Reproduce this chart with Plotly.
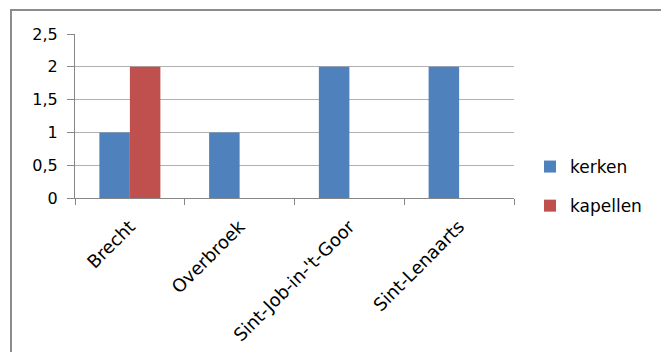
import plotly.graph_objects as go

categories = ["Brecht", "Overbroek", "Sint-Job-in-'t-Goor", "Sint-Lenaarts"]
kerken = [1, 1, 2, 2]
kapellen = [2, 0, 0, 0]
y_ticks = [0, 0.5, 1, 1.5, 2, 2.5]

W, H = 661, 352
L, R, T, B = 75, 514, 34, 198  # plot area in pixels

FONT = "DejaVu Sans"

fig = go.Figure()
fig.add_trace(go.Bar(name="kerken", x=categories, y=kerken, marker_color="#4F81BD",
                     marker_line_width=0, legendgroup="a"))
fig.add_trace(go.Bar(name="kapellen", x=categories, y=kapellen, marker_color="#C0504D",
                     marker_line_width=0, legendgroup="b"))

def px_x(p):
    return (p - L) / (R - L)

def px_y(p):
    return (B - p) / (B - T)

fig.update_layout(
    width=W, height=H,
    margin=dict(l=L, r=W - R, t=T, b=H - B, pad=0, autoexpand=False),
    paper_bgcolor="white", plot_bgcolor="white",
    separators=", ",
    barmode="group", bargap=0.444, bargroupgap=0,
    font=dict(family=FONT, size=16, color="#000000"),
    showlegend=True,
    legend=dict(x=px_x(530), y=px_y(149), xanchor="left", yanchor="top",
                font=dict(family=FONT, size=17, color="#000000"),
                traceorder="grouped", tracegroupgap=14, bgcolor="rgba(0,0,0,0)"),
    xaxis=dict(type="category", tickson="boundaries", ticks="outside", ticklen=6,
               tickcolor="#868686", showline=True, linecolor="#868686", linewidth=1,
               showgrid=False, tickangle=-45, ticklabelstandoff=10, automargin=False,
               tickfont=dict(family=FONT, size=18, color="#000000")),
    yaxis=dict(range=[0, 2.5], tickvals=y_ticks, ticks="outside", ticklen=7,
               tickcolor="#868686", showline=True, linecolor="#868686", linewidth=1,
               showgrid=True, gridcolor="#b0b0b0", gridwidth=1, zeroline=False,
               ticklabelstandoff=6, automargin=False,
               tickfont=dict(family=FONT, size=16, color="#000000")),
    shapes=[dict(type="rect", xref="paper", yref="paper",
                 x0=px_x(11), x1=px_x(700), y0=px_y(400), y1=px_y(10),
                 line=dict(color="#8c8c8c", width=2), fillcolor="rgba(0,0,0,0)",
                 layer="below")],
)

fig.write_html("out.html", config={"displayModeBar": False},
               post_script="document.body.style.margin='0';")
